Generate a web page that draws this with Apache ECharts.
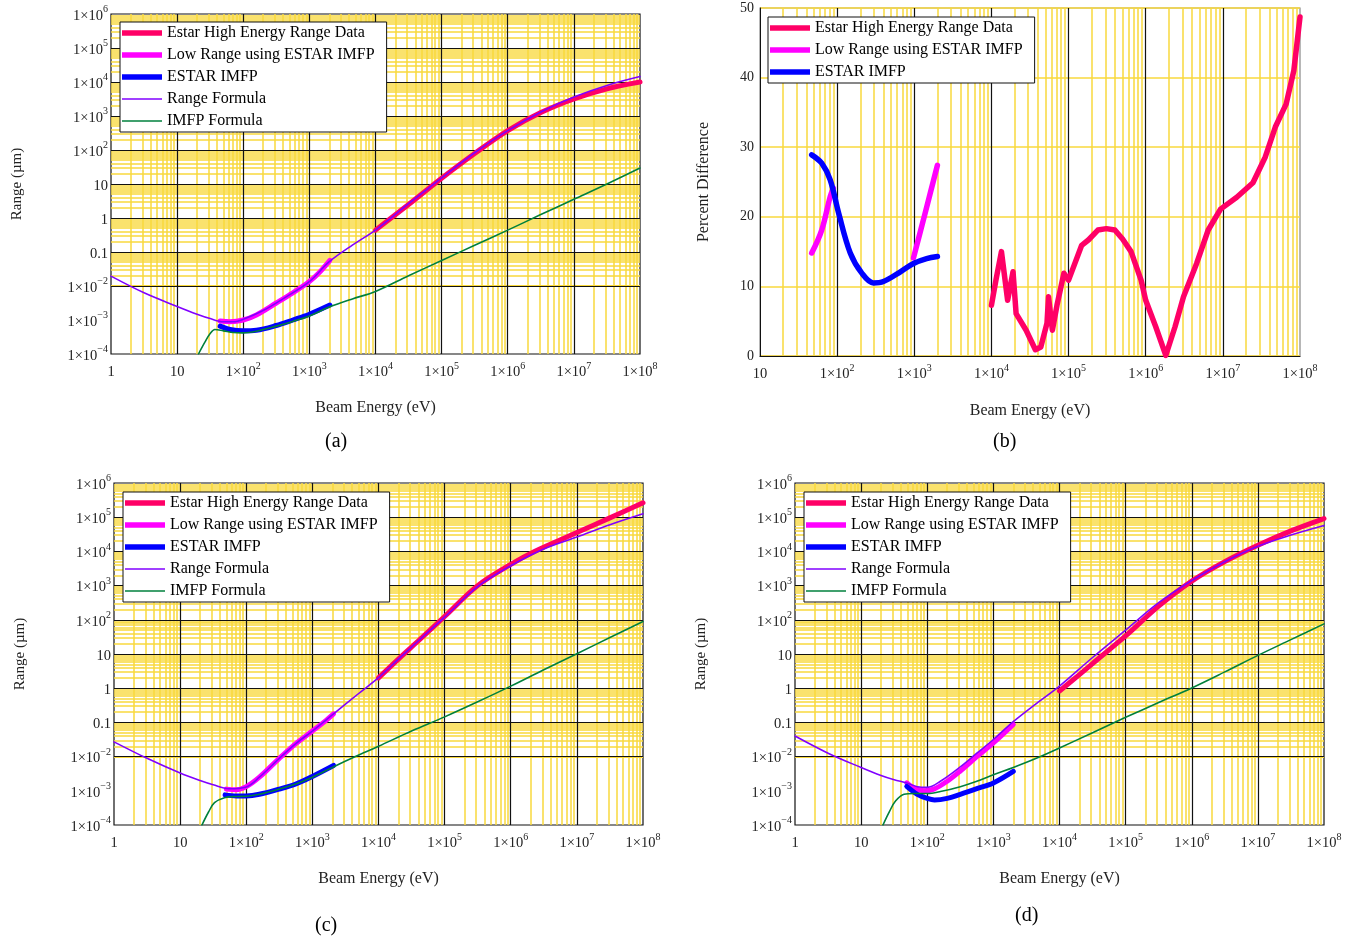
<!DOCTYPE html>
<html>
<head>
<meta charset="utf-8">
<script src="https://cdn.jsdelivr.net/npm/echarts@6/dist/echarts.min.js"></script>
<style>
html, body { margin: 0; padding: 0; background: #fff; }
#main { width: 1368px; height: 942px; }
</style>
</head>
<body>
<div id="main"></div>
<script>
// ---- panel (a) : [energy eV, range um]
var aEstarHigh = [[1e4,0.44],[3.16e4,2.5],[1e5,14.8],[3.16e5,79],[1e6,372],[3.16e6,1259],[1e7,3162],[3.16e7,6310],[1e8,1e4]];
var aLowRange = [[44.7,9.3e-4],[63.1,8.9e-4],[100,1.0e-3],[158,1.41e-3],[316,3.16e-3],[562,6.3e-3],[1000,0.0135],[1413,0.025],[2042,0.057]];
var aEstarImfp = [[44.7,6.6e-4],[63.1,5.25e-4],[100,4.8e-4],[158,5.0e-4],[316,6.9e-4],[562,1.0e-3],[1000,1.48e-3],[2042,2.75e-3]];
var aRangeFormula = [[1,0.0195],[3.16,0.0063],[10,0.0025],[20,0.00148],[31.6,0.0011],[50,0.00089],[70.8,0.00089],[100,0.00105],[200,0.0019],[398,0.0042],[1000,0.0135],[2000,0.052],[4467,0.16],[1e4,0.44],[3.16e4,2.63],[1e5,15.1],[3.16e5,83],[1e6,372],[3.16e6,1318],[1e7,3630],[3.16e7,7943],[1e8,14450]];
var aImfpFormula = [[21,1.0e-4],[26.3,2.24e-4],[31.6,4.0e-4],[37.2,5.25e-4],[50.1,4.8e-4],[70.8,4.27e-4],[100,4.17e-4],[158,4.68e-4],[316,6.6e-4],[562,9.1e-4],[1000,1.32e-3],[2000,2.4e-3],[4467,4.17e-3],[1e4,6.9e-3],[3.16e4,0.02],[1e5,0.056],[3.16e5,0.158],[1e6,0.44],[3.16e6,1.26],[1e7,3.55],[3.16e7,10],[1e8,29.5]];

// ---- panel (b) : [energy eV, percent difference]
var bEstarHigh = [[1e4,7.3],[11480,11.0],[13490,15.0],[16220,8.0],[19050,12.1],[20890,6.1],[28180,3.7],[37150,0.9],[43650,1.3],[52480,4.7],[54950,8.5],[61660,3.7],[70790,7.3],[87100,11.9],[1e5,10.9],[147900,15.9],[182000,16.7],[239900,18.1],[309000,18.3],[398100,18.1],[501200,16.8],[645700,15.0],[871000,10.9],[1e6,8.0],[1349000,4.2],[1820000,0.1],[2399000,4.2],[3090000,8.5],[4571000,13.3],[6457000,18.1],[9333000,21.1],[15140000,22.8],[24550000,24.9],[35480000,28.6],[47860000,32.9],[66070000,36.2],[83180000,41.0],[1e8,48.7]];
var bLowRange = [[46.8,14.8],[63.1,18.1],[81.3,22.9],[89.1,24.1],[150,null],[977,14.1],[1380,20.5],[1995,27.4]];
var bEstarImfp = [[46.8,28.9],[63.1,27.7],[81.3,25.3],[104.7,20.5],[147.9,14.8],[208.9,11.9],[295.1,10.5],[398.1,10.7],[660.7,12.1],[977.2,13.3],[1445,14.0],[1995,14.3]];

// ---- panel (c)
var cEstarHigh = [[1e4,2.0],[2e4,7.1],[3.98e4,24],[1e5,125],[3.16e5,1000],[1e6,4170],[2.29e6,1e4],[1e7,35500],[3.16e7,95500],[1e8,263000]];
var cLowRange = [[50.1,1.12e-3],[70.8,1.07e-3],[100,1.32e-3],[158,2.5e-3],[316,8.9e-3],[562,0.024],[1000,0.056],[1479,0.1],[2089,0.178]];
var cEstarImfp = [[47.9,7.6e-4],[70.8,7.1e-4],[100,7.1e-4],[158,7.9e-4],[316,1.12e-3],[562,1.58e-3],[1000,2.63e-3],[2089,5.5e-3]];
var cRangeFormula = [[1,0.027],[3.16,0.0089],[10,0.0033],[20,0.002],[31.6,0.0015],[53.7,0.00115],[100,0.0013],[158,0.0025],[316,0.0089],[562,0.024],[1000,0.056],[2089,0.178],[5012,0.7],[1e4,2.04],[2e4,7.08],[3.98e4,24],[1e5,120],[3.16e5,933],[1e6,3800],[3.16e6,11750],[1e7,26300],[3.16e7,60260],[1e8,125900]];
var cImfpFormula = [[21.4,1e-4],[26.9,2.4e-4],[33.1,4.5e-4],[46.8,6.3e-4],[70.8,6.8e-4],[100,6.9e-4],[158,7.9e-4],[316,1.12e-3],[562,1.58e-3],[1000,2.5e-3],[2089,5.0e-3],[4467,0.01],[1e4,0.02],[3.16e4,0.056],[1e5,0.145],[3.16e5,0.4],[1e6,1.15],[3.16e6,3.47],[1e7,10.2],[3.16e7,30.2],[1e8,89]];

// ---- panel (d)
var dEstarHigh = [[1e4,0.83],[2e4,2.5],[3.16e4,5.25],[1e5,33.9],[3.16e5,251],[1e6,1350],[3.16e6,5010],[1e7,15100],[3.16e7,39800],[1e8,91200]];
var dLowRange = [[49,1.7e-3],[63.1,1.2e-3],[89.1,1.0e-3],[126,1.12e-3],[200,1.9e-3],[316,3.8e-3],[562,0.01],[1000,0.025],[2000,0.087]];
var dEstarImfp = [[49,1.35e-3],[70.8,7.9e-4],[100,6.0e-4],[129,5.4e-4],[200,6.0e-4],[316,7.9e-4],[562,1.15e-3],[1000,1.7e-3],[2000,3.7e-3]];
var dRangeFormula = [[1,0.04],[3.16,0.0126],[10,0.0048],[20,0.0028],[31.6,0.0021],[49,0.0017],[70.8,0.00132],[100,0.00126],[158,0.0019],[316,0.005],[562,0.0126],[1000,0.0316],[2000,0.105],[4467,0.355],[1e4,1.15],[3.16e4,7.9],[1e5,50],[3.16e5,316],[1e6,1410],[3.16e6,5010],[1e7,14130],[3.16e7,30200],[1e8,57500]];
var dImfpFormula = [[21.4,1e-4],[26.9,2.5e-4],[33.1,5.0e-4],[44.7,7.9e-4],[63.1,8.3e-4],[100,8.3e-4],[158,9.5e-4],[316,1.32e-3],[562,1.9e-3],[1000,2.95e-3],[2000,4.8e-3],[4467,8.9e-3],[1e4,0.0178],[3.16e4,0.05],[1e5,0.141],[3.16e5,0.38],[1e6,1.02],[3.16e6,3.0],[1e7,9.1],[3.16e7,26.3],[1e8,76]];

var seriesNames = ['Estar High Energy Range Data', 'Low Range using ESTAR IMFP', 'ESTAR IMFP', 'Range Formula', 'IMFP Formula'];
var seriesColors = ['#ff0066', '#ff00ff', '#0000ff', '#8000ff', '#00803c'];
var seriesWidths = [5, 5, 5, 1.6, 1.6];
var captions = ['(a)', '(b)', '(c)', '(d)'];

var FONT = 'Liberation Serif';
var YELLOW = '#f9d93c';
var DARK = '#111111';

var grids = [
    { left: 111, top: 14, width: 529, height: 340 },
    { left: 760, top: 8, width: 540, height: 348 },
    { left: 114, top: 483, width: 529, height: 342 },
    { left: 795, top: 483, width: 529, height: 342 }
];

function powLabel(v) {
    var k = Math.round(Math.log10(v));
    if (k === 0) return '{b|1}';
    if (k === 1) return '{b|10}';
    if (k === -1) return '{b|0.1}';
    return '{b|1×10}{e|' + (k < 0 ? '−' + (-k) : k) + '}';
}
var labelRich = {
    b: { fontSize: 14.5, fontFamily: FONT, color: '#222', lineHeight: 19, verticalAlign: 'bottom' },
    e: { fontSize: 10, fontFamily: FONT, color: '#222', lineHeight: 10, verticalAlign: 'top' }
};

// minor (2..9) and major (decade) grid positions for a log axis
function logMinor(key, k0, k1) {
    var out = [];
    for (var k = k0; k < k1; k++) {
        for (var m = 2; m <= 9; m++) {
            var o = {}; o[key] = m * Math.pow(10, k); out.push(o);
        }
    }
    return out;
}
function logMajor(key, k0, k1) {
    var out = [];
    for (var k = k0 + 1; k < k1; k++) {
        var o = {}; o[key] = Math.pow(10, k); out.push(o);
    }
    return out;
}
function gridSeries(i, lines, color, width, z, anchor) {
    return {
        type: 'line', xAxisIndex: i, yAxisIndex: i, data: [anchor],
        silent: true, showSymbol: false, symbol: 'none', lineStyle: { opacity: 0 }, z: z,
        markLine: {
            silent: true, symbol: ['none', 'none'], animation: false, z: z,
            label: { show: false },
            lineStyle: { color: color, width: width, type: 'solid', opacity: 1 },
            emphasis: { disabled: true },
            data: lines
        }
    };
}
function curve(i, k, data, w) {
    return {
        name: seriesNames[k], type: 'line', xAxisIndex: i, yAxisIndex: i,
        data: data, showSymbol: false, symbol: 'none', smooth: k === 0 && i === 1 ? false : 0.35,
        color: seriesColors[k],
        lineStyle: { color: seriesColors[k], width: w || seriesWidths[k], cap: 'round', join: 'round' },
        z: 3 + k
    };
}
function legendItems(list) {
    return list.map(function (n) {
        var k = seriesNames.indexOf(n);
        var thick = seriesWidths[k] > 3;
        return {
            name: n,
            icon: thick ? 'path://M0 0H80V11H0Z' : 'path://M0 0H100V4H0Z',
            itemStyle: { color: seriesColors[k] }
        };
    });
}

var xAxes = [], yAxes = [], series = [], legends = [], titles = [];

for (var i = 0; i < 4; i++) {
    var isB = (i === 1);
    xAxes.push({
        type: 'log', logBase: 10, gridIndex: i,
        min: isB ? 10 : 1, max: 1e8, interval: 1,
        axisLine: { show: isB, lineStyle: { color: DARK } },
        axisTick: { show: false },
        minorTick: { show: false },
        splitLine: { show: false },
        minorSplitLine: { show: false },
        axisLabel: { formatter: powLabel, rich: labelRich, margin: 7 },
        name: 'Beam Energy (eV)', nameLocation: 'middle', nameGap: isB ? 47 : 46,
        nameTextStyle: { fontSize: 16, fontFamily: FONT, color: '#222' }
    });
    if (isB) {
        yAxes.push({
            type: 'value', gridIndex: i, min: 0, max: 50, interval: 10,
            axisLine: { show: true, lineStyle: { color: DARK } },
            axisTick: { show: false },
            splitLine: { show: true, lineStyle: { color: YELLOW, width: 1.5 } },
            minorSplitLine: { show: false },
            axisLabel: { fontSize: 14, fontFamily: FONT, color: '#222', margin: 6 },
            name: 'Percent Difference', nameLocation: 'middle', nameGap: 48,
            nameTextStyle: { fontSize: 16, fontFamily: FONT, color: '#222' }
        });
    } else {
        yAxes.push({
            type: 'log', logBase: 10, gridIndex: i, min: 1e-4, max: 1e6, interval: 1,
            axisLine: { show: false },
            axisTick: { show: false },
            minorTick: { show: false },
            splitLine: { show: false },
            minorSplitLine: { show: false },
            axisLabel: { formatter: powLabel, rich: labelRich, margin: 3 },
            name: 'Range (µm)', nameLocation: 'middle', nameGap: 86,
            nameTextStyle: { fontSize: 15, fontFamily: FONT, color: '#222' }
        });
    }

    // yellow minor grid, then dark decade lines
    if (isB) {
        series.push(gridSeries(i, logMinor('xAxis', 1, 8), YELLOW, 1.5, 1, [10, 0]));
        series.push(gridSeries(i, logMajor('xAxis', 1, 8), DARK, 1.2, 2, [10, 0]));
    } else {
        series.push(gridSeries(i, logMinor('xAxis', 0, 8).concat(logMinor('yAxis', -4, 6)), YELLOW, 1.5, 1, [1, 1e-4]));
        series.push(gridSeries(i, logMajor('xAxis', 0, 8).concat(logMajor('yAxis', -4, 6)), DARK, 1.2, 2, [1, 1e-4]));
    }
}

series.push(curve(0, 0, aEstarHigh), curve(0, 1, aLowRange), curve(0, 2, aEstarImfp), curve(0, 3, aRangeFormula), curve(0, 4, aImfpFormula));
series.push(curve(1, 0, bEstarHigh, 5.5), curve(1, 1, bLowRange, 5.5), curve(1, 2, bEstarImfp, 5.5));
series.push(curve(2, 0, cEstarHigh), curve(2, 1, cLowRange), curve(2, 2, cEstarImfp), curve(2, 3, cRangeFormula), curve(2, 4, cImfpFormula));
series.push(curve(3, 0, dEstarHigh), curve(3, 1, dLowRange), curve(3, 2, dEstarImfp), curve(3, 3, dRangeFormula), curve(3, 4, dImfpFormula));

var legendPos = [[120, 22], [768, 17], [123, 492], [804, 492]];
for (var j = 0; j < 4; j++) {
    legends.push({
        data: legendItems(j === 1 ? seriesNames.slice(0, 3) : seriesNames),
        left: legendPos[j][0], top: legendPos[j][1], z: 20,
        orient: 'vertical', itemGap: 6, itemWidth: 40, itemHeight: 14,
        symbolKeepAspect: true,
        padding: [3, 12, 3, 2],
        borderColor: DARK, borderWidth: 1, backgroundColor: '#fff',
        selectedMode: false,
        textStyle: { fontSize: 16, fontFamily: FONT, color: '#000' }
    });
}

var captionPos = [[325, 432], [993, 432], [315, 916], [1015, 906]];
for (var c = 0; c < 4; c++) {
    titles.push({
        text: captions[c], left: captionPos[c][0], top: captionPos[c][1], padding: 0,
        textStyle: { fontSize: 20, fontWeight: 'normal', fontFamily: FONT, color: '#000' }
    });
}

var option = {
    backgroundColor: '#ffffff',
    animation: false,
    textStyle: { fontFamily: FONT },
    title: titles,
    legend: legends,
    grid: grids.map(function (g, idx) {
        return {
            left: g.left, top: g.top, width: g.width, height: g.height,
            show: true, backgroundColor: '#fff',
            borderColor: idx === 1 ? '#888' : DARK, borderWidth: 1.2,
            containLabel: false
        };
    }),
    xAxis: xAxes,
    yAxis: yAxes,
    series: series
};

var myChart = echarts.init(document.getElementById('main'));
myChart.setOption(option);
window.addEventListener("resize", function () {
    myChart.resize();
});
</script>
</body>
</html>
